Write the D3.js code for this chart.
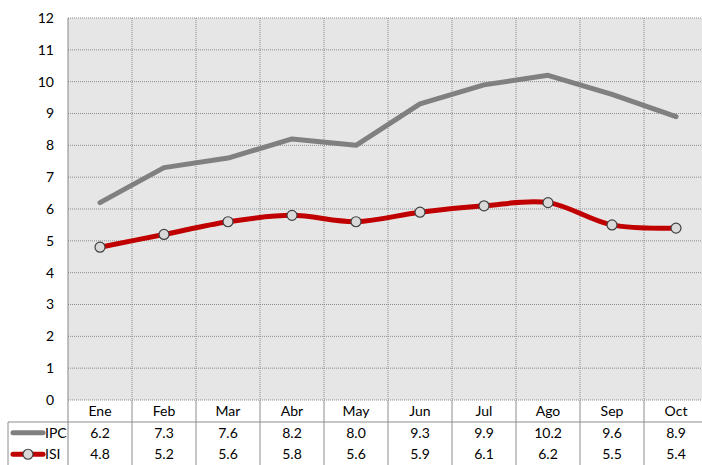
<!DOCTYPE html>
<html>
<head>
<meta charset="utf-8">
<script src="https://cdn.jsdelivr.net/npm/d3@7"></script>
<style>
  body { margin: 0; background: #fff; }
  svg text { font-family: Lato, "Open Sans", sans-serif; fill: #000; }
</style>
</head>
<body>
<div id="plot"></div>
<script>
// chart data
const months = ["Ene", "Feb", "Mar", "Abr", "May", "Jun", "Jul", "Ago", "Sep", "Oct"];
const ipc = [6.2, 7.3, 7.6, 8.2, 8.0, 9.3, 9.9, 10.2, 9.6, 8.9];
const isi = [4.8, 5.2, 5.6, 5.8, 5.6, 5.9, 6.1, 6.2, 5.5, 5.4];
const yTicks = [0, 1, 2, 3, 4, 5, 6, 7, 8, 9, 10, 11, 12];

const width = 702, height = 465;
const plotLeft = 68, plotTop = 18, plotBottom = 400, plotRight = 708;
const rowH = 21.5, headerBottom = 422;

const svg = d3.select("#plot").append("svg")
  .attr("width", width).attr("height", height);

const x = d3.scaleBand().domain(months).range([plotLeft, plotRight]);
const y = d3.scaleLinear().domain([0, 12]).range([plotBottom, plotTop]);

// plot background
svg.append("rect")
  .attr("x", plotLeft).attr("y", plotTop)
  .attr("width", plotRight - plotLeft).attr("height", plotBottom - plotTop)
  .attr("fill", "#e6e6e6");

// horizontal grid
svg.append("g").selectAll("line")
  .data(yTicks)
  .join("line")
  .attr("x1", plotLeft).attr("x2", plotRight)
  .attr("y1", d => y(d)).attr("y2", d => y(d))
  .attr("stroke", "#8c8c8c").attr("stroke-width", 1)
  .attr("stroke-dasharray", "1,1");

// vertical grid (category boundaries)
const bounds = months.slice(1).map(m => x(m));
svg.append("g").selectAll("line")
  .data(bounds)
  .join("line")
  .attr("x1", d => d).attr("x2", d => d)
  .attr("y1", plotTop).attr("y2", plotBottom)
  .attr("stroke", "#8c8c8c").attr("stroke-width", 1)
  .attr("stroke-dasharray", "1,1");

// y axis labels
svg.append("g").selectAll("text")
  .data(yTicks)
  .join("text")
  .attr("x", 54).attr("y", d => y(d))
  .attr("dy", "0.35em")
  .attr("text-anchor", "end")
  .attr("font-size", 14)
  .text(d => d);

// left axis line
svg.append("line")
  .attr("x1", plotLeft).attr("x2", plotLeft)
  .attr("y1", plotTop).attr("y2", height)
  .attr("stroke", "#868686").attr("stroke-width", 1);

// data table lines
svg.append("g").selectAll("line")
  .data(bounds)
  .join("line")
  .attr("x1", d => d).attr("x2", d => d)
  .attr("y1", plotBottom).attr("y2", height)
  .attr("stroke", "#8c8c8c").attr("stroke-width", 1);

svg.append("line")
  .attr("x1", 8).attr("x2", plotRight)
  .attr("y1", headerBottom).attr("y2", headerBottom)
  .attr("stroke", "#8c8c8c");
svg.append("line")
  .attr("x1", 8).attr("x2", 8)
  .attr("y1", headerBottom).attr("y2", height)
  .attr("stroke", "#8c8c8c");

// table header
svg.append("g").selectAll("text")
  .data(months)
  .join("text")
  .attr("x", d => x(d) + x.bandwidth() / 2)
  .attr("y", 411).attr("dy", "0.35em")
  .attr("text-anchor", "middle")
  .attr("font-size", 14)
  .text(d => d);

// table rows
const rows = [
  {name: "IPC", values: ipc, yc: headerBottom + rowH / 2},
  {name: "ISI", values: isi, yc: headerBottom + rowH * 1.5}
];
rows.forEach(r => {
  svg.append("g").selectAll("text")
    .data(r.values)
    .join("text")
    .attr("x", (d, i) => x(months[i]) + x.bandwidth() / 2)
    .attr("y", r.yc).attr("dy", "0.35em")
    .attr("text-anchor", "middle")
    .attr("font-size", 14)
    .text(d => d.toFixed(1));
  svg.append("text")
    .attr("x", 45).attr("y", r.yc).attr("dy", "0.35em")
    .attr("font-size", 14)
    .text(r.name);
});

// legend keys
svg.append("line")
  .attr("x1", 13).attr("x2", 43)
  .attr("y1", rows[0].yc).attr("y2", rows[0].yc)
  .attr("stroke", "#808080").attr("stroke-width", 5).attr("stroke-linecap", "round");
svg.append("line")
  .attr("x1", 13).attr("x2", 43)
  .attr("y1", rows[1].yc).attr("y2", rows[1].yc)
  .attr("stroke", "#c00000").attr("stroke-width", 5).attr("stroke-linecap", "round");
svg.append("circle")
  .attr("cx", 28).attr("cy", rows[1].yc).attr("r", 5)
  .attr("fill", "#d9d9d9").attr("stroke", "#404040").attr("stroke-width", 1.2);

// series lines
const cx = (d, i) => x(months[i]) + x.bandwidth() / 2;

svg.append("path")
  .datum(ipc)
  .attr("fill", "none")
  .attr("stroke", "#808080").attr("stroke-width", 5)
  .attr("stroke-linecap", "round").attr("stroke-linejoin", "round")
  .attr("d", d3.line().x(cx).y(d => y(d)));

svg.append("path")
  .datum(isi)
  .attr("fill", "none")
  .attr("stroke", "#c00000").attr("stroke-width", 5)
  .attr("stroke-linecap", "round").attr("stroke-linejoin", "round")
  .attr("d", d3.line().x(cx).y(d => y(d)).curve(d3.curveCatmullRom.alpha(0.5)));

svg.append("g").selectAll("circle")
  .data(isi)
  .join("circle")
  .attr("cx", cx).attr("cy", d => y(d))
  .attr("r", 5)
  .attr("fill", "#d9d9d9").attr("stroke", "#404040").attr("stroke-width", 1.2);
</script>
</body>
</html>
